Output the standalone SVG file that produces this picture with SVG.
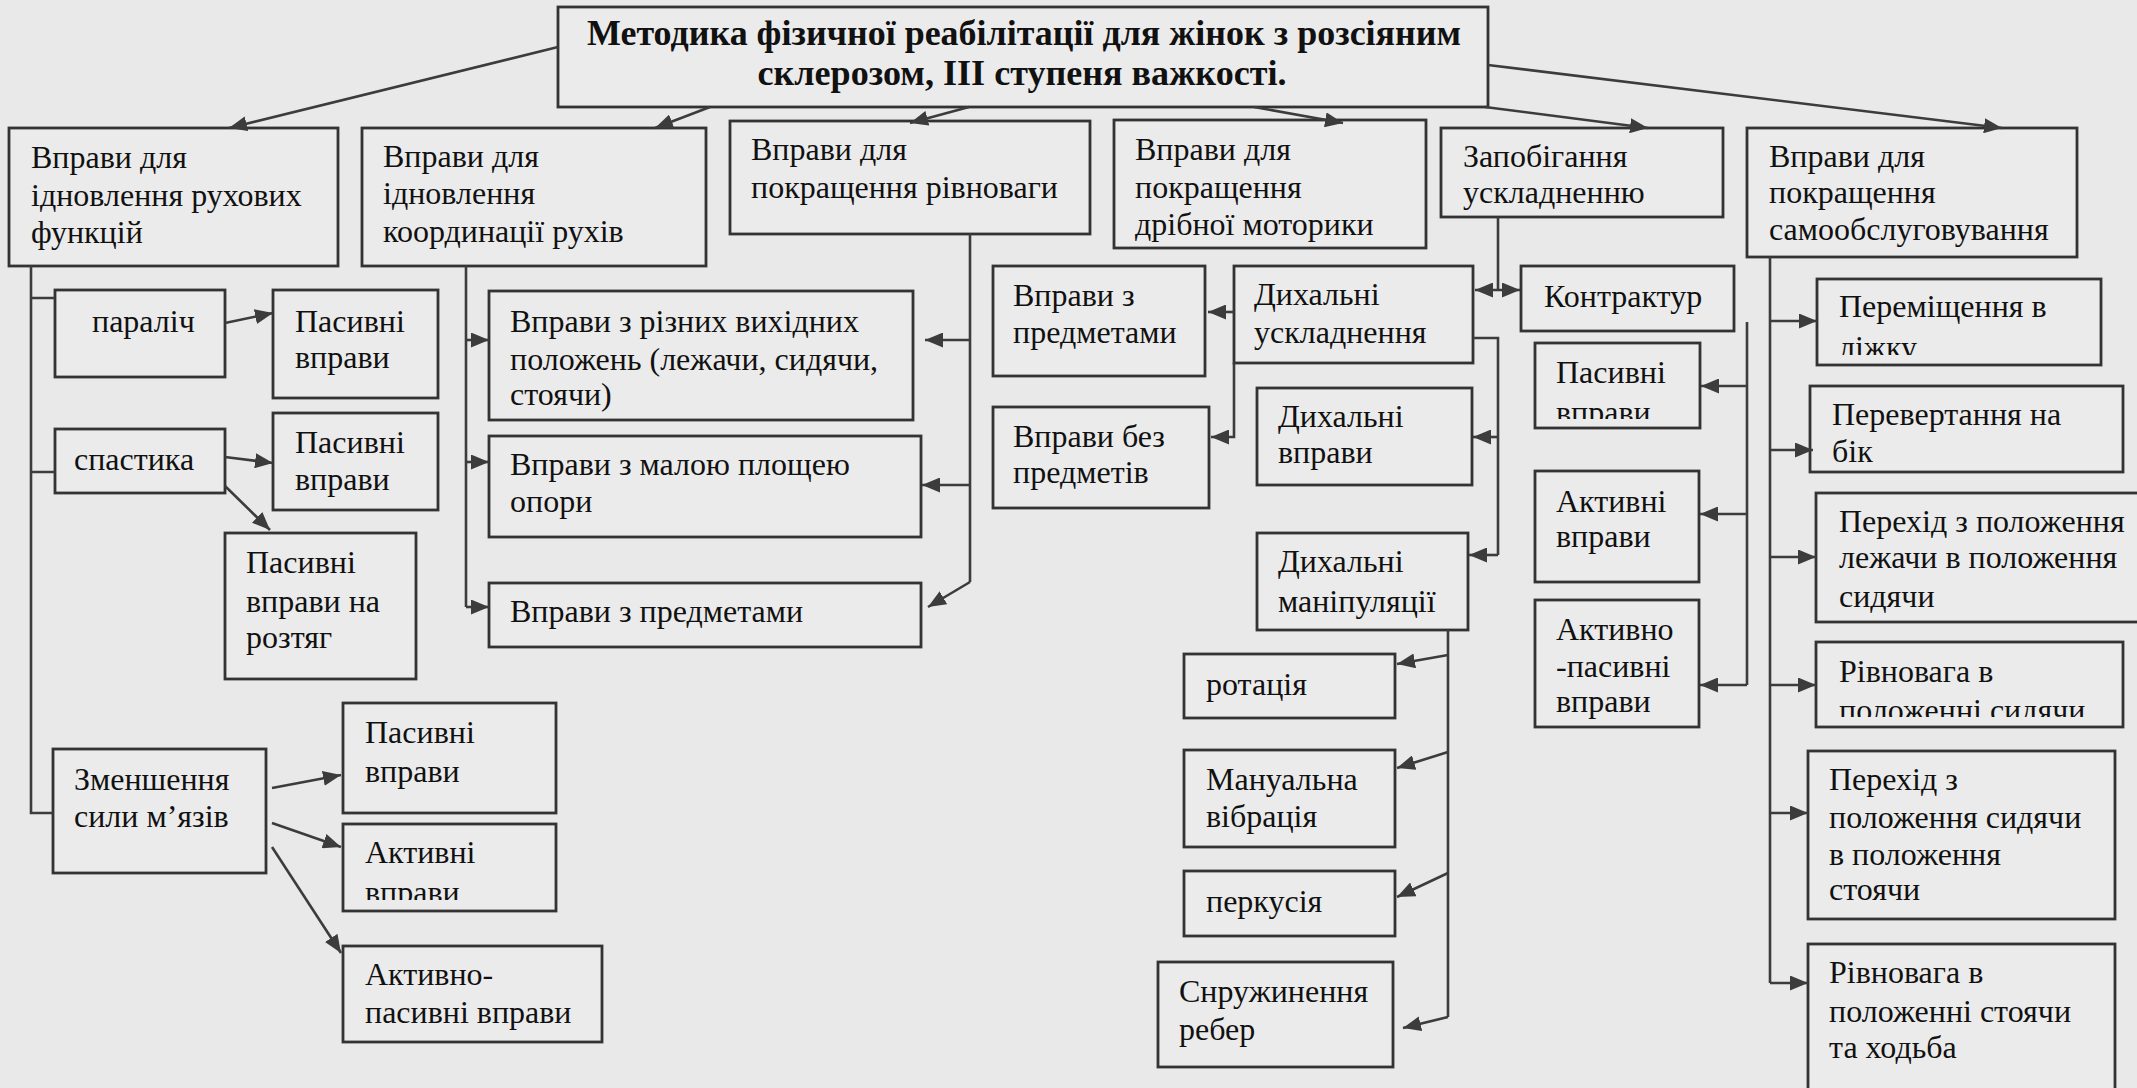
<svg xmlns="http://www.w3.org/2000/svg" width="2137" height="1088" viewBox="0 0 2137 1088">
<style>
.box{fill:#ebebeb;stroke:#333;stroke-width:2.8}
.t{font-family:"Liberation Serif","Times New Roman",serif;font-size:32px;fill:#111}
.title{font-weight:bold;font-size:35px}
.ln{stroke:#3c3c3c;stroke-width:2.6;fill:none}
.ar{marker-end:url(#ah)}
</style>
<defs>
<marker id="ah" markerUnits="userSpaceOnUse" markerWidth="19" markerHeight="15" refX="18" refY="7.5" orient="auto-start-reverse"><path d="M0,0 L18,7.5 L0,15 z" fill="#3c3c3c"/></marker>
<clipPath id="c29"><rect x="1535" y="343" width="165" height="76"/></clipPath>
<clipPath id="c32"><rect x="1817" y="279" width="284" height="76"/></clipPath>
<clipPath id="c35"><rect x="1816" y="642" width="307" height="75"/></clipPath>
<clipPath id="c14"><rect x="343" y="824" width="213" height="76"/></clipPath>
</defs>
<rect width="2137" height="1088" fill="#e9e9e9"/>

<g id="title"><rect class="box" x="558" y="7" width="930" height="100"/>
<text class="t title" text-anchor="middle"><tspan x="1024" y="45" textLength="874" lengthAdjust="spacingAndGlyphs">Методика фізичної реабілітації для жінок з розсіяним</tspan><tspan x="1022" y="85" textLength="529" lengthAdjust="spacingAndGlyphs">склерозом, ІІІ ступеня важкості.</tspan></text></g>

<g id="n1"><rect class="box" x="9" y="128" width="329" height="138"/><text class="t"><tspan x="31" y="168">Вправи для</tspan><tspan x="31" y="206">ідновлення рухових</tspan><tspan x="31" y="243">функцій</tspan></text></g>
<g id="n2"><rect class="box" x="362" y="128" width="344" height="138"/><text class="t"><tspan x="383" y="167">Вправи для</tspan><tspan x="383" y="204">ідновлення</tspan><tspan x="383" y="242">координації рухів</tspan></text></g>
<g id="n3"><rect class="box" x="730" y="121" width="360" height="113"/><text class="t"><tspan x="751" y="160">Вправи для</tspan><tspan x="751" y="198">покращення рівноваги</tspan></text></g>
<g id="n4"><rect class="box" x="1114" y="120" width="312" height="128"/><text class="t"><tspan x="1135" y="160">Вправи для</tspan><tspan x="1135" y="198">покращення</tspan><tspan x="1135" y="235">дрібної моторики</tspan></text></g>
<g id="n5"><rect class="box" x="1441" y="128" width="282" height="89"/><text class="t"><tspan x="1463" y="167">Запобігання</tspan><tspan x="1463" y="203">ускладненню</tspan></text></g>
<g id="n6"><rect class="box" x="1747" y="128" width="330" height="129"/><text class="t"><tspan x="1769" y="167">Вправи для</tspan><tspan x="1769" y="203">покращення</tspan><tspan x="1769" y="240">самообслуговування</tspan></text></g>

<g id="n7"><rect class="box" x="55" y="290" width="170" height="87"/><text class="t" x="92" y="332">параліч</text></g>
<g id="n8"><rect class="box" x="273" y="290" width="165" height="108"/><text class="t"><tspan x="295" y="332">Пасивні</tspan><tspan x="295" y="368">вправи</tspan></text></g>
<g id="n9"><rect class="box" x="55" y="429" width="170" height="64"/><text class="t" x="74" y="470">спастика</text></g>
<g id="n10"><rect class="box" x="273" y="413" width="165" height="97"/><text class="t"><tspan x="295" y="453">Пасивні</tspan><tspan x="295" y="490">вправи</tspan></text></g>
<g id="n11"><rect class="box" x="225" y="533" width="191" height="146"/><text class="t"><tspan x="246" y="573">Пасивні</tspan><tspan x="246" y="612">вправи на</tspan><tspan x="246" y="648">розтяг</tspan></text></g>
<g id="n12"><rect class="box" x="53" y="749" width="213" height="124"/><text class="t"><tspan x="74" y="790">Зменшення</tspan><tspan x="74" y="827">сили м’язів</tspan></text></g>
<g id="n13"><rect class="box" x="343" y="703" width="213" height="110"/><text class="t"><tspan x="365" y="743">Пасивні</tspan><tspan x="365" y="782">вправи</tspan></text></g>
<g id="n14"><rect class="box" x="343" y="824" width="213" height="87"/><text class="t" clip-path="url(#c14)"><tspan x="365" y="863">Активні</tspan><tspan x="365" y="903">вправи</tspan></text></g>
<g id="n15"><rect class="box" x="343" y="946" width="259" height="96"/><text class="t"><tspan x="365" y="985">Активно-</tspan><tspan x="365" y="1023">пасивні вправи</tspan></text></g>

<g id="n16"><rect class="box" x="489" y="291" width="424" height="129"/><text class="t"><tspan x="510" y="332">Вправи з різних вихідних</tspan><tspan x="510" y="370">положень (лежачи, сидячи,</tspan><tspan x="510" y="405">стоячи)</tspan></text></g>
<g id="n17"><rect class="box" x="489" y="436" width="432" height="101"/><text class="t"><tspan x="510" y="475">Вправи з малою площею</tspan><tspan x="510" y="512">опори</tspan></text></g>
<g id="n18"><rect class="box" x="489" y="583" width="432" height="64"/><text class="t" x="510" y="622">Вправи з предметами</text></g>

<g id="n19"><rect class="box" x="993" y="266" width="212" height="110"/><text class="t"><tspan x="1013" y="306">Вправи з</tspan><tspan x="1013" y="343">предметами</tspan></text></g>
<g id="n20"><rect class="box" x="993" y="407" width="216" height="101"/><text class="t"><tspan x="1013" y="447">Вправи без</tspan><tspan x="1013" y="483">предметів</tspan></text></g>
<g id="n21"><rect class="box" x="1234" y="266" width="239" height="97"/><text class="t"><tspan x="1254" y="305">Дихальні</tspan><tspan x="1254" y="343">ускладнення</tspan></text></g>
<g id="n22"><rect class="box" x="1257" y="388" width="215" height="97"/><text class="t"><tspan x="1278" y="427">Дихальні</tspan><tspan x="1278" y="463">вправи</tspan></text></g>
<g id="n23"><rect class="box" x="1257" y="533" width="211" height="97"/><text class="t"><tspan x="1278" y="572">Дихальні</tspan><tspan x="1278" y="612">маніпуляції</tspan></text></g>
<g id="n24"><rect class="box" x="1184" y="654" width="211" height="64"/><text class="t" x="1206" y="695">ротація</text></g>
<g id="n25"><rect class="box" x="1184" y="750" width="211" height="97"/><text class="t"><tspan x="1206" y="790">Мануальна</tspan><tspan x="1206" y="827">вібрація</tspan></text></g>
<g id="n26"><rect class="box" x="1184" y="871" width="211" height="65"/><text class="t" x="1206" y="912">перкусія</text></g>
<g id="n27"><rect class="box" x="1158" y="962" width="235" height="105"/><text class="t"><tspan x="1179" y="1002">Снружинення</tspan><tspan x="1179" y="1040">ребер</tspan></text></g>

<g id="n28"><rect class="box" x="1521" y="266" width="213" height="65"/><text class="t" x="1544" y="307">Контрактур</text></g>
<g id="n29"><rect class="box" x="1535" y="343" width="165" height="85"/><text class="t" clip-path="url(#c29)"><tspan x="1556" y="383">Пасивні</tspan><tspan x="1556" y="423">вправи</tspan></text></g>
<g id="n30"><rect class="box" x="1535" y="471" width="164" height="111"/><text class="t"><tspan x="1556" y="512">Активні</tspan><tspan x="1556" y="547">вправи</tspan></text></g>
<g id="n31"><rect class="box" x="1535" y="600" width="164" height="127"/><text class="t"><tspan x="1556" y="640">Активно</tspan><tspan x="1556" y="677">-пасивні</tspan><tspan x="1556" y="712">вправи</tspan></text></g>

<g id="n32"><rect class="box" x="1817" y="279" width="284" height="86"/><text class="t" clip-path="url(#c32)"><tspan x="1839" y="317">Переміщення в</tspan><tspan x="1839" y="358">ліжку</tspan></text></g>
<g id="n33"><rect class="box" x="1810" y="386" width="313" height="86"/><text class="t"><tspan x="1832" y="425">Перевертання на</tspan><tspan x="1832" y="462">бік</tspan></text></g>
<g id="n34"><rect class="box" x="1816" y="493" width="330" height="129"/><text class="t"><tspan x="1839" y="532">Перехід з положення</tspan><tspan x="1839" y="568">лежачи в положення</tspan><tspan x="1839" y="607">сидячи</tspan></text></g>
<g id="n35"><rect class="box" x="1816" y="642" width="307" height="85"/><text class="t" clip-path="url(#c35)"><tspan x="1839" y="682">Рівновага в</tspan><tspan x="1839" y="721">положенні сидячи</tspan></text></g>
<g id="n36"><rect class="box" x="1808" y="751" width="307" height="168"/><text class="t"><tspan x="1829" y="790">Перехід з</tspan><tspan x="1829" y="828">положення сидячи</tspan><tspan x="1829" y="865">в положення</tspan><tspan x="1829" y="900">стоячи</tspan></text></g>
<g id="n37"><rect class="box" x="1808" y="944" width="307" height="150"/><text class="t"><tspan x="1829" y="983">Рівновага в</tspan><tspan x="1829" y="1022">положенні стоячи</tspan><tspan x="1829" y="1058">та ходьба</tspan></text></g>

<g id="connectors">
<line class="ln ar" x1="558" y1="47" x2="229" y2="128"/>
<line class="ln ar" x1="710" y1="107" x2="655" y2="128"/>
<line class="ln ar" x1="969" y1="107" x2="910" y2="123"/>
<line class="ln ar" x1="1254" y1="107" x2="1343" y2="123"/>
<line class="ln ar" x1="1485" y1="107" x2="1648" y2="128"/>
<line class="ln ar" x1="1488" y1="65" x2="2002" y2="128"/>

<path class="ln" d="M31,266 V813 H53 M31,298 H55 M31,472 H55"/>
<line class="ln ar" x1="225" y1="323" x2="273" y2="313"/>
<line class="ln ar" x1="225" y1="457" x2="273" y2="463"/>
<line class="ln ar" x1="225" y1="486" x2="270" y2="530"/>
<line class="ln ar" x1="272" y1="788" x2="341" y2="775"/>
<line class="ln ar" x1="272" y1="823" x2="341" y2="847"/>
<line class="ln ar" x1="272" y1="847" x2="341" y2="953"/>

<path class="ln" d="M466,266 V607"/>
<line class="ln ar" x1="466" y1="340" x2="489" y2="340"/>
<line class="ln ar" x1="466" y1="462" x2="489" y2="462"/>
<line class="ln ar" x1="466" y1="607" x2="489" y2="607"/>

<path class="ln" d="M970,234 V582"/>
<line class="ln ar" x1="970" y1="340" x2="925" y2="340"/>
<line class="ln ar" x1="970" y1="485" x2="922" y2="485"/>
<line class="ln ar" x1="970" y1="582" x2="928" y2="607"/>

<line class="ln ar" x1="1234" y1="312" x2="1208" y2="312"/>
<path class="ln ar" d="M1234,363 V437 H1211"/>
<path class="ln" d="M1473,338 H1498 V555"/>
<line class="ln ar" x1="1498" y1="437" x2="1473" y2="437"/>
<line class="ln ar" x1="1498" y1="555" x2="1469" y2="555"/>
<path class="ln" d="M1498,217 V290"/>
<line class="ln" x1="1475" y1="290" x2="1520" y2="290" marker-start="url(#ah)" marker-end="url(#ah)"/>

<path class="ln" d="M1448,630 V1017"/>
<line class="ln ar" x1="1448" y1="655" x2="1397" y2="664"/>
<line class="ln ar" x1="1448" y1="752" x2="1397" y2="768"/>
<line class="ln ar" x1="1448" y1="873" x2="1397" y2="897"/>
<line class="ln ar" x1="1448" y1="1017" x2="1403" y2="1028"/>

<path class="ln" d="M1747,322 V685"/>
<line class="ln ar" x1="1747" y1="386" x2="1701" y2="386"/>
<line class="ln ar" x1="1747" y1="514" x2="1700" y2="514"/>
<line class="ln ar" x1="1747" y1="685" x2="1700" y2="685"/>

<path class="ln" d="M1770,257 V983"/>
<line class="ln ar" x1="1770" y1="321" x2="1817" y2="321"/>
<line class="ln ar" x1="1770" y1="450" x2="1813" y2="450"/>
<line class="ln ar" x1="1770" y1="557" x2="1816" y2="557"/>
<line class="ln ar" x1="1770" y1="685" x2="1816" y2="685"/>
<line class="ln ar" x1="1770" y1="813" x2="1808" y2="813"/>
<line class="ln ar" x1="1770" y1="983" x2="1808" y2="983"/>
</g>
</svg>
